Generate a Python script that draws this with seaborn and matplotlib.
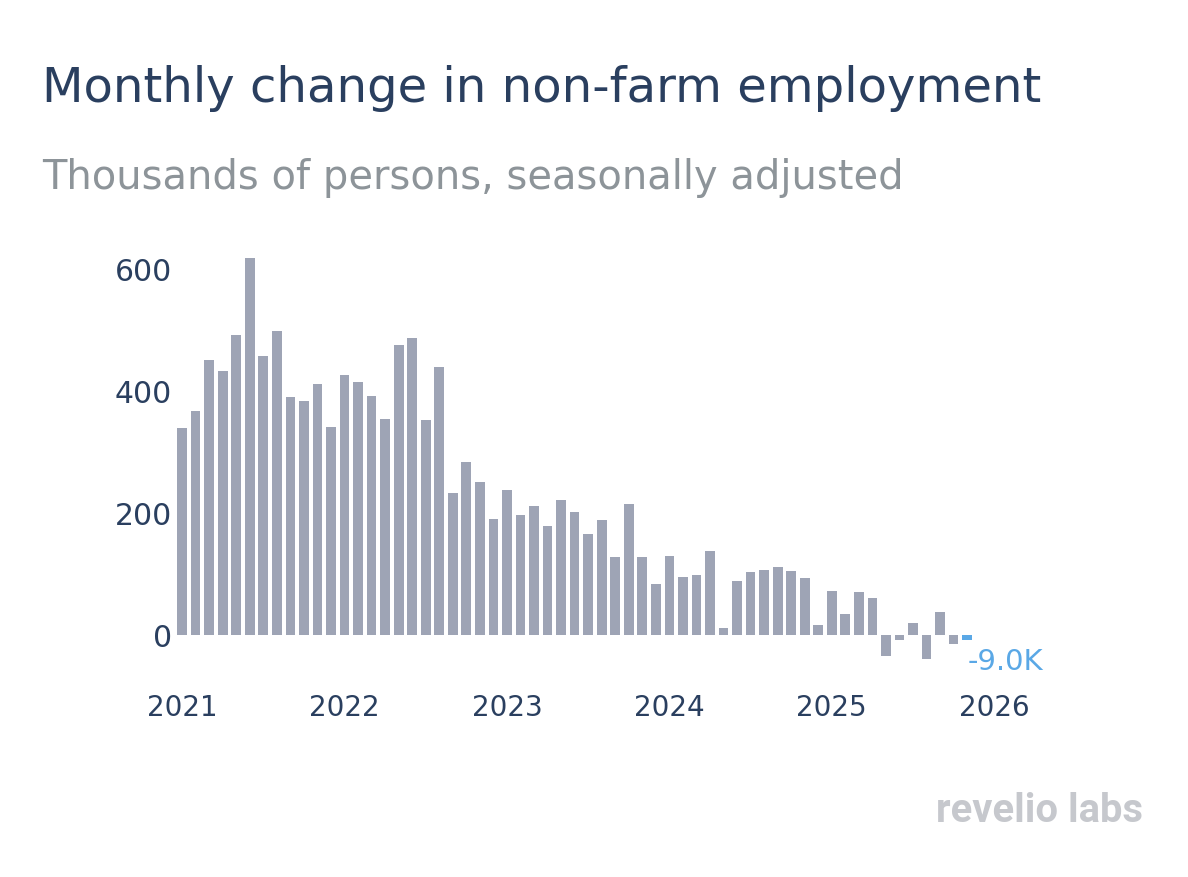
import matplotlib
matplotlib.use("Agg")
import matplotlib.pyplot as plt
import seaborn as sns
import pandas as pd
import numpy as np

# ---- data (thousands, monthly change) ----
months = pd.date_range("2021-01-01", "2025-11-01", freq="MS").strftime("%Y-%m").tolist()
values = [340, 368, 450, 433, 492, 618, 458, 499, 390, 383, 412, 341,
          426, 414, 391, 354, 475, 487, 352, 440, 233, 283, 250, 190,
          238, 196, 211, 178, 221, 201, 166, 189, 128, 215, 127, 84,
          130, 95, 99, 137, 12, 88, 104, 107, 112, 105, 94, 16,
          72, 35, 70, 61, -34, -8, 19, -40, 37, -15, -9]
year_ticks = ["2021", "2022", "2023", "2024", "2025", "2026"]
y_ticks = [0, 200, 400, 600]
last_label = "-9.0K"

BAR = "#9ea4b5"
BLUE = "#5aa8e6"
DARK = "#2a3f5f"
SUB = "#8d9499"

sns.set_theme(style="white")
plt.rcParams["font.family"] = ["DejaVu Sans"]

W, H = 1188, 878
fig = plt.figure(figsize=(W / 100, H / 100), dpi=100)
fig.patch.set_facecolor("white")

# axes placement (pixels)
x_l, x_r = 176, 1001
y_t, y_b = 254.75, 669.5
ax = fig.add_axes([x_l / W, 1 - y_b / H, (x_r - x_l) / W, (y_b - y_t) / H])

df = pd.DataFrame({"month": months, "value": values})
df["kind"] = ["last" if i == len(df) - 1 else "hist" for i in range(len(df))]
sns.barplot(data=df, x="month", y="value", hue="kind",
            palette={"hist": BAR, "last": BLUE}, width=0.72,
            dodge=False, legend=False, ax=ax, saturation=1)
for p in ax.patches:
    p.set_linewidth(0)

ax.set_xlim(-0.45, 60.5)
ax.set_ylim(-55, 625)
ax.set_xticks([0, 12, 24, 36, 48, 60])
ax.set_xticklabels(year_ticks)
ax.set_yticks(y_ticks)
ax.set_yticklabels([str(v) for v in y_ticks])
ax.tick_params(axis="x", length=0, pad=18, labelsize=20, labelcolor=DARK)
ax.tick_params(axis="y", length=0, pad=3, labelsize=21.5, labelcolor=DARK)
ax.set_xlabel("")
ax.set_ylabel("")
for s in ax.spines.values():
    s.set_visible(False)
ax.grid(False)

ax.annotate(last_label, xy=(len(values) - 1, values[-1]), xytext=(0, -5),
            textcoords="offset points", ha="left", va="top",
            fontsize=21, color=BLUE)

renderer = fig.canvas.get_renderer()

def fit_text(x_px, base_px, s, target_w, color, weight="normal", family=None, start=30):
    kw = dict(color=color, fontweight=weight, va="baseline", ha="left")
    if family:
        kw["family"] = family
    t = fig.text(x_px / W, 1 - base_px / H, s, fontsize=start, **kw)
    w = t.get_window_extent(renderer).width
    t.set_fontsize(start * target_w / w)
    return t

fit_text(42, 102, "Monthly change in non-farm employment", 998, DARK)
fit_text(42, 189, "Thousands of persons, seasonally adjusted", 860, SUB)
fit_text(936, 822, "revelio labs", 207, "#c6c8cd", weight="bold", family=["Roboto", "DejaVu Sans"])

fig.savefig("out.png", dpi=100, facecolor="white")
